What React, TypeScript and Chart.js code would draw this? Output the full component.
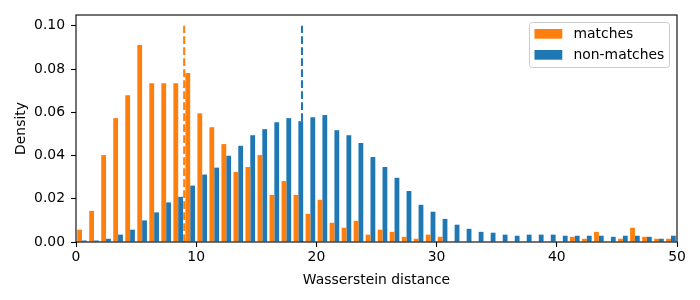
import React, { useEffect, useRef } from 'react';
import { Chart, registerables } from 'chart.js';

Chart.register(...registerables);

// ---- Data ----
const binCenters = [
  0.5, 1.5, 2.5, 3.5, 4.5, 5.5, 6.5, 7.5, 8.5, 9.5,
  10.5, 11.5, 12.5, 13.5, 14.5, 15.5, 16.5, 17.5, 18.5, 19.5,
  20.5, 21.5, 22.5, 23.5, 24.5, 25.5, 26.5, 27.5, 28.5, 29.5,
  30.5, 31.5, 32.5, 33.5, 34.5, 35.5, 36.5, 37.5, 38.5, 39.5,
  40.5, 41.5, 42.5, 43.5, 44.5, 45.5, 46.5, 47.5, 48.5, 49.5,
];

const matches = [
  0.0057, 0.0144, 0.0402, 0.0573, 0.0679, 0.0911, 0.0734, 0.0734, 0.0734, 0.0782,
  0.0596, 0.0531, 0.0453, 0.0324, 0.0347, 0.0402, 0.0218, 0.0282, 0.0218, 0.0130,
  0.0195, 0.0089, 0.0066, 0.0098, 0.0034, 0.0057, 0.0047, 0.0024, 0.0015, 0.0034,
  0.0024, 0, 0, 0, 0, 0, 0, 0, 0, 0,
  0, 0.0024, 0.0015, 0.0047, 0, 0.0015, 0.0066, 0.0024, 0.0015, 0.0015,
];

const nonMatches = [
  0.0007, 0.0007, 0.0015, 0.0034, 0.0057, 0.0100, 0.0137, 0.0183, 0.0209, 0.0261,
  0.0312, 0.0344, 0.0399, 0.0445, 0.0494, 0.0522, 0.0554, 0.0573, 0.0559, 0.0577,
  0.0587, 0.0517, 0.0494, 0.0458, 0.0393, 0.0347, 0.0297, 0.0236, 0.0172, 0.0140,
  0.0107, 0.0080, 0.0061, 0.0047, 0.0043, 0.0034, 0.0029, 0.0034, 0.0034, 0.0034,
  0.0029, 0.0029, 0.0029, 0.0029, 0.0024, 0.0029, 0.0029, 0.0024, 0.0015, 0.0029,
];

const seriesLabels = ['matches', 'non-matches'];
const medianLines = [9.0, 18.8];
const vlineSpan = [0, 0.1];
const xTickValues = [0, 10, 20, 30, 40, 50];
const yTickValues = [0, 0.02, 0.04, 0.06, 0.08, 0.1];
const xLabel = 'Wasserstein distance';
const yLabel = 'Density';

const ORANGE = '#ff7f0e';
const BLUE = '#1f77b4';
const FONT = '"DejaVu Sans", sans-serif';
const FS = 13.9;

const framePlugin = {
  id: 'mplFrame',
  afterDatasetsDraw(chart: any) {
    const { ctx, chartArea: a } = chart;
    ctx.save();
    ctx.strokeStyle = '#000';
    ctx.lineWidth = 1.1;
    ctx.strokeRect(a.left, a.top, a.right - a.left, a.bottom - a.top);
    ctx.restore();
  },
};

const legendPlugin = {
  id: 'mplLegend',
  afterDraw(chart: any) {
    const { ctx, chartArea: a } = chart;
    const bars = chart.data.datasets.filter((d: any) => d.type === 'bar');
    const bw = 140;
    const bh = 45;
    const bx = a.right - 7.5 - bw;
    const by = a.top + 7.5;
    const r = 2.8;
    ctx.save();
    ctx.beginPath();
    ctx.moveTo(bx + r, by);
    ctx.lineTo(bx + bw - r, by);
    ctx.arcTo(bx + bw, by, bx + bw, by + r, r);
    ctx.lineTo(bx + bw, by + bh - r);
    ctx.arcTo(bx + bw, by + bh, bx + bw - r, by + bh, r);
    ctx.lineTo(bx + r, by + bh);
    ctx.arcTo(bx, by + bh, bx, by + bh - r, r);
    ctx.lineTo(bx, by + r);
    ctx.arcTo(bx, by, bx + r, by, r);
    ctx.closePath();
    ctx.fillStyle = 'rgba(255,255,255,0.8)';
    ctx.fill();
    ctx.strokeStyle = '#cccccc';
    ctx.lineWidth = 1;
    ctx.stroke();
    ctx.font = `${FS}px ${FONT}`;
    ctx.textAlign = 'left';
    ctx.textBaseline = 'alphabetic';
    bars.forEach((d: any, i: number) => {
      ctx.fillStyle = d.backgroundColor;
      ctx.fillRect(bx + 5, by + 6.5 + 21 * i, 27.8, 9.7);
      ctx.fillStyle = '#000';
      ctx.fillText(d.label, bx + 44, by + 15.8 + 21 * i);
    });
    ctx.restore();
  },
};

export default function App() {
  const canvasRef = useRef<HTMLCanvasElement | null>(null);

  useEffect(() => {
    if (!canvasRef.current) return;
    Chart.defaults.font.family = FONT;
    Chart.defaults.font.size = FS;
    Chart.defaults.color = '#000';

    const chart = new Chart(canvasRef.current, {
      type: 'bar',
      data: {
        datasets: [
          {
            type: 'line',
            label: 'median-matches',
            data: vlineSpan.map((y) => ({ x: medianLines[0], y })),
            borderColor: ORANGE,
            borderWidth: 2.08,
            borderDash: [7.7, 3.3],
            pointRadius: 0,
            fill: false,
            order: 0,
          } as any,
          {
            type: 'line',
            label: 'median-non-matches',
            data: vlineSpan.map((y) => ({ x: medianLines[1], y })),
            borderColor: BLUE,
            borderWidth: 2.08,
            borderDash: [7.7, 3.3],
            pointRadius: 0,
            fill: false,
            order: 0,
          } as any,
          {
            type: 'bar',
            label: seriesLabels[0],
            data: binCenters.map((x, i) => ({ x, y: matches[i] })),
            backgroundColor: ORANGE,
            borderWidth: 0,
            inflateAmount: 0,
            categoryPercentage: 0.8,
            barPercentage: 1.0,
            order: 1,
          } as any,
          {
            type: 'bar',
            label: seriesLabels[1],
            data: binCenters.map((x, i) => ({ x, y: nonMatches[i] })),
            backgroundColor: BLUE,
            borderWidth: 0,
            inflateAmount: 0,
            categoryPercentage: 0.8,
            barPercentage: 1.0,
            order: 1,
          } as any,
        ],
      },
      options: {
        responsive: false,
        animation: false,
        devicePixelRatio: 1,
        layout: { padding: { left: 0, right: 23, top: 15, bottom: 0 } },
        plugins: {
          legend: { display: false },
          tooltip: { enabled: false },
        },
        scales: {
          x: {
            type: 'linear',
            min: 0,
            max: 50,
            offset: false,
            grid: {
              offset: false,
              drawOnChartArea: false,
              drawTicks: true,
              tickLength: 5,
              tickColor: '#000',
              tickWidth: 1.1,
              color: '#000',
            },
            border: { display: false },
            afterBuildTicks: (scale: any) => {
              scale.ticks = xTickValues.map((value) => ({ value }));
            },
            afterFit: (scale: any) => {
              scale.height = 58;
            },
            ticks: {
              padding: 2,
              maxRotation: 0,
              autoSkip: false,
              callback: (v: any) => String(v),
            },
            title: {
              display: true,
              text: xLabel,
              padding: { top: 0, bottom: 11.7 },
            },
          } as any,
          y: {
            type: 'linear',
            min: 0,
            max: 0.105,
            grid: {
              drawOnChartArea: false,
              drawTicks: true,
              tickLength: 5,
              tickColor: '#000',
              tickWidth: 1.1,
              color: '#000',
            },
            border: { display: false },
            afterBuildTicks: (scale: any) => {
              scale.ticks = yTickValues.map((value) => ({ value }));
            },
            afterFit: (scale: any) => {
              scale.width = 76;
            },
            ticks: {
              padding: 6,
              autoSkip: false,
              callback: (v: any) => Number(v).toFixed(2),
            },
            title: {
              display: true,
              text: yLabel,
              padding: { top: 12.7, bottom: 0 },
            },
          } as any,
        },
      },
      plugins: [framePlugin, legendPlugin],
    } as any);

    return () => chart.destroy();
  }, []);

  return (
    <div style={{ position: 'absolute', left: 0, top: 0, width: 700, height: 300, background: '#fff' }}>
      <canvas ref={canvasRef} width={700} height={300} style={{ display: 'block', width: 700, height: 300 }} />
    </div>
  );
}
